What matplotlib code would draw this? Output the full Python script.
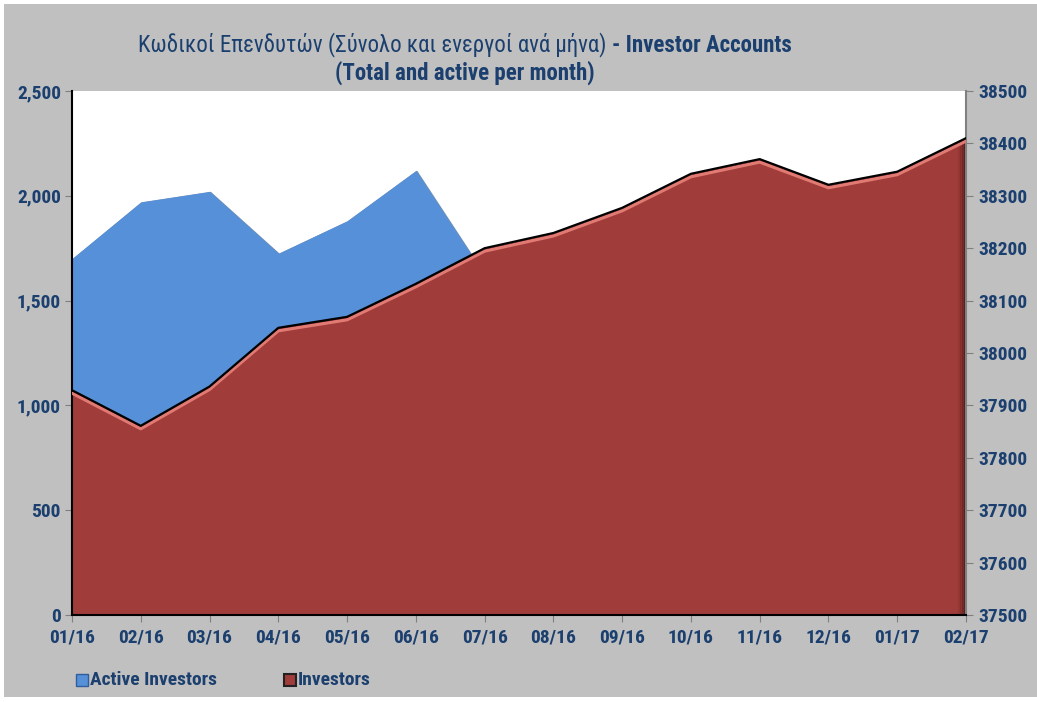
import matplotlib
matplotlib.use("Agg")
import matplotlib.pyplot as plt
import matplotlib.transforms as mtransforms
from matplotlib.patches import Rectangle
from matplotlib.ticker import FuncFormatter, MultipleLocator

months = ["01/16", "02/16", "03/16", "04/16", "05/16", "06/16", "07/16",
          "08/16", "09/16", "10/16", "11/16", "12/16", "01/17", "02/17"]
active_investors = [1700, 1970, 2020, 1725, 1880, 2120, 1620,
                    1650, 1700, 1750, 1800, 1700, 1720, 1760]
investors = [37929, 37861, 37936, 38048, 38069, 38132, 38200,
             38229, 38277, 38342, 38370, 38321, 38346, 38410]

TXT = "#1b3f6e"
BLUE = "#5690d8"
RED = "#a03c3a"
FONTS = ["Roboto Condensed", "Liberation Sans Narrow", "Roboto", "DejaVu Sans"]
plt.rcParams["font.family"] = FONTS

W, H = 1037, 702
fig = plt.figure(figsize=(W / 100, H / 100), dpi=100)
fig.patch.set_facecolor("white")
fig.patches.append(Rectangle((4 / W, 5 / H), 1 - 4 / W, 1 - 9 / H,
                             transform=fig.transFigure, facecolor="#c0c0c0",
                             edgecolor="none", zorder=-10))

ax = fig.add_axes([72 / W, 1 - 615 / H, (966 - 72) / W, (615 - 91) / H])
ax.set_zorder(1)
ax.set_facecolor("white")
x = list(range(len(months)))

# Active investors (left axis)
ax.fill_between(x, 0, active_investors, color=BLUE, lw=0, zorder=2)
shadow = mtransforms.offset_copy(ax.transData, fig=fig, x=1, y=-1, units="dots")
ax.plot(x, active_investors, color="#2f5f9a", lw=1.2, alpha=0.7, zorder=1.9,
        transform=shadow)
ax.set_ylim(0, 2500)
ax.set_xlim(0, len(months) - 1)
ax.yaxis.set_major_locator(MultipleLocator(500))
ax.yaxis.set_major_formatter(FuncFormatter(lambda v, p: f"{int(v):,}"))

ax2 = ax.twinx()
ax2.set_zorder(2)
ax2.patch.set_visible(False)
ax2.fill_between(x, 37500, investors, color=RED, lw=0, zorder=2)
# dark shading along the right edge of the red area
for k, (dx, al) in enumerate([(-1, 0.55), (-3, 0.35), (-5, 0.2), (-7, 0.1)]):
    tr = mtransforms.offset_copy(ax2.transData, fig=fig, x=dx, y=0, units="dots")
    ax2.plot([x[-1], x[-1]], [37500, investors[-1] - 8], color="#3a1210",
             lw=2.2, alpha=al, zorder=2.5, transform=tr, solid_capstyle="butt")
pink = mtransforms.offset_copy(ax2.transData, fig=fig, x=0, y=-3, units="dots")
ax2.plot(x, investors, color="#e27a74", lw=2.2, zorder=3, transform=pink)
ax2.plot(x, investors, color="black", lw=1.6, zorder=4)
ax2.set_ylim(37500, 38500)
ax2.yaxis.set_major_locator(MultipleLocator(100))
ax2.yaxis.set_major_formatter(FuncFormatter(lambda v, p: f"{int(v)}"))

ax.set_xticks(x)
ax.set_xticklabels(months)

for a in (ax, ax2):
    for s in a.spines.values():
        s.set_visible(False)
ax2.spines["left"].set_visible(True)
ax2.spines["left"].set_color("black")
ax2.spines["left"].set_linewidth(1.5)
ax2.spines["bottom"].set_visible(True)
ax2.spines["bottom"].set_color("black")
ax2.spines["bottom"].set_linewidth(1.5)
ax2.spines["right"].set_visible(True)
ax2.spines["right"].set_color("#808080")
ax2.spines["right"].set_linewidth(1.5)

tick_kw = dict(direction="out", length=5, color="#808080", labelcolor=TXT,
               labelsize=14)
ax.tick_params(axis="y", pad=3, **tick_kw)
ax.tick_params(axis="x", pad=5, **tick_kw)
ax2.tick_params(axis="y", pad=4, **tick_kw)
for lab in ax.get_xticklabels() + ax.get_yticklabels() + ax2.get_yticklabels():
    lab.set_fontweight("bold")

# Title
TS = 16.5
t1 = fig.text(0, 1 - 45 / H, "Κωδικοί Επενδυτών (Σύνολο και ενεργοί ανά μήνα) ",
              color=TXT, fontsize=TS, va="center", ha="left")
t2 = fig.text(0, 1 - 45 / H, "- Investor Accounts", color=TXT, fontsize=TS,
              fontweight="bold", va="center", ha="left")
fig.canvas.draw()
r = fig.canvas.get_renderer()
w1 = t1.get_window_extent(r).width
w2 = t2.get_window_extent(r).width
start = 465 - (w1 + w2) / 2
t1.set_x(start / W)
t2.set_x((start + w1) / W)
fig.text(465 / W, 1 - 73 / H, "(Total and active per month)", color=TXT,
         fontsize=TS, fontweight="bold", va="center", ha="center")

# Legend
fig.patches.append(Rectangle((76 / W, 1 - 686 / H), 12 / W, 12 / H,
                             transform=fig.transFigure, facecolor=BLUE,
                             edgecolor="#2f5f9a", lw=1, zorder=5))
fig.text(90 / W, 1 - 680 / H, "Active Investors", color=TXT, fontsize=14,
         fontweight="bold", va="center", ha="left")
fig.patches.append(Rectangle((284 / W, 1 - 686 / H), 12 / W, 12 / H,
                             transform=fig.transFigure, facecolor=RED,
                             edgecolor="#222222", lw=1.5, zorder=5))
fig.text(298 / W, 1 - 680 / H, "Investors", color=TXT, fontsize=14,
         fontweight="bold", va="center", ha="left")

fig.savefig("out.png", dpi=100, facecolor=fig.get_facecolor())
